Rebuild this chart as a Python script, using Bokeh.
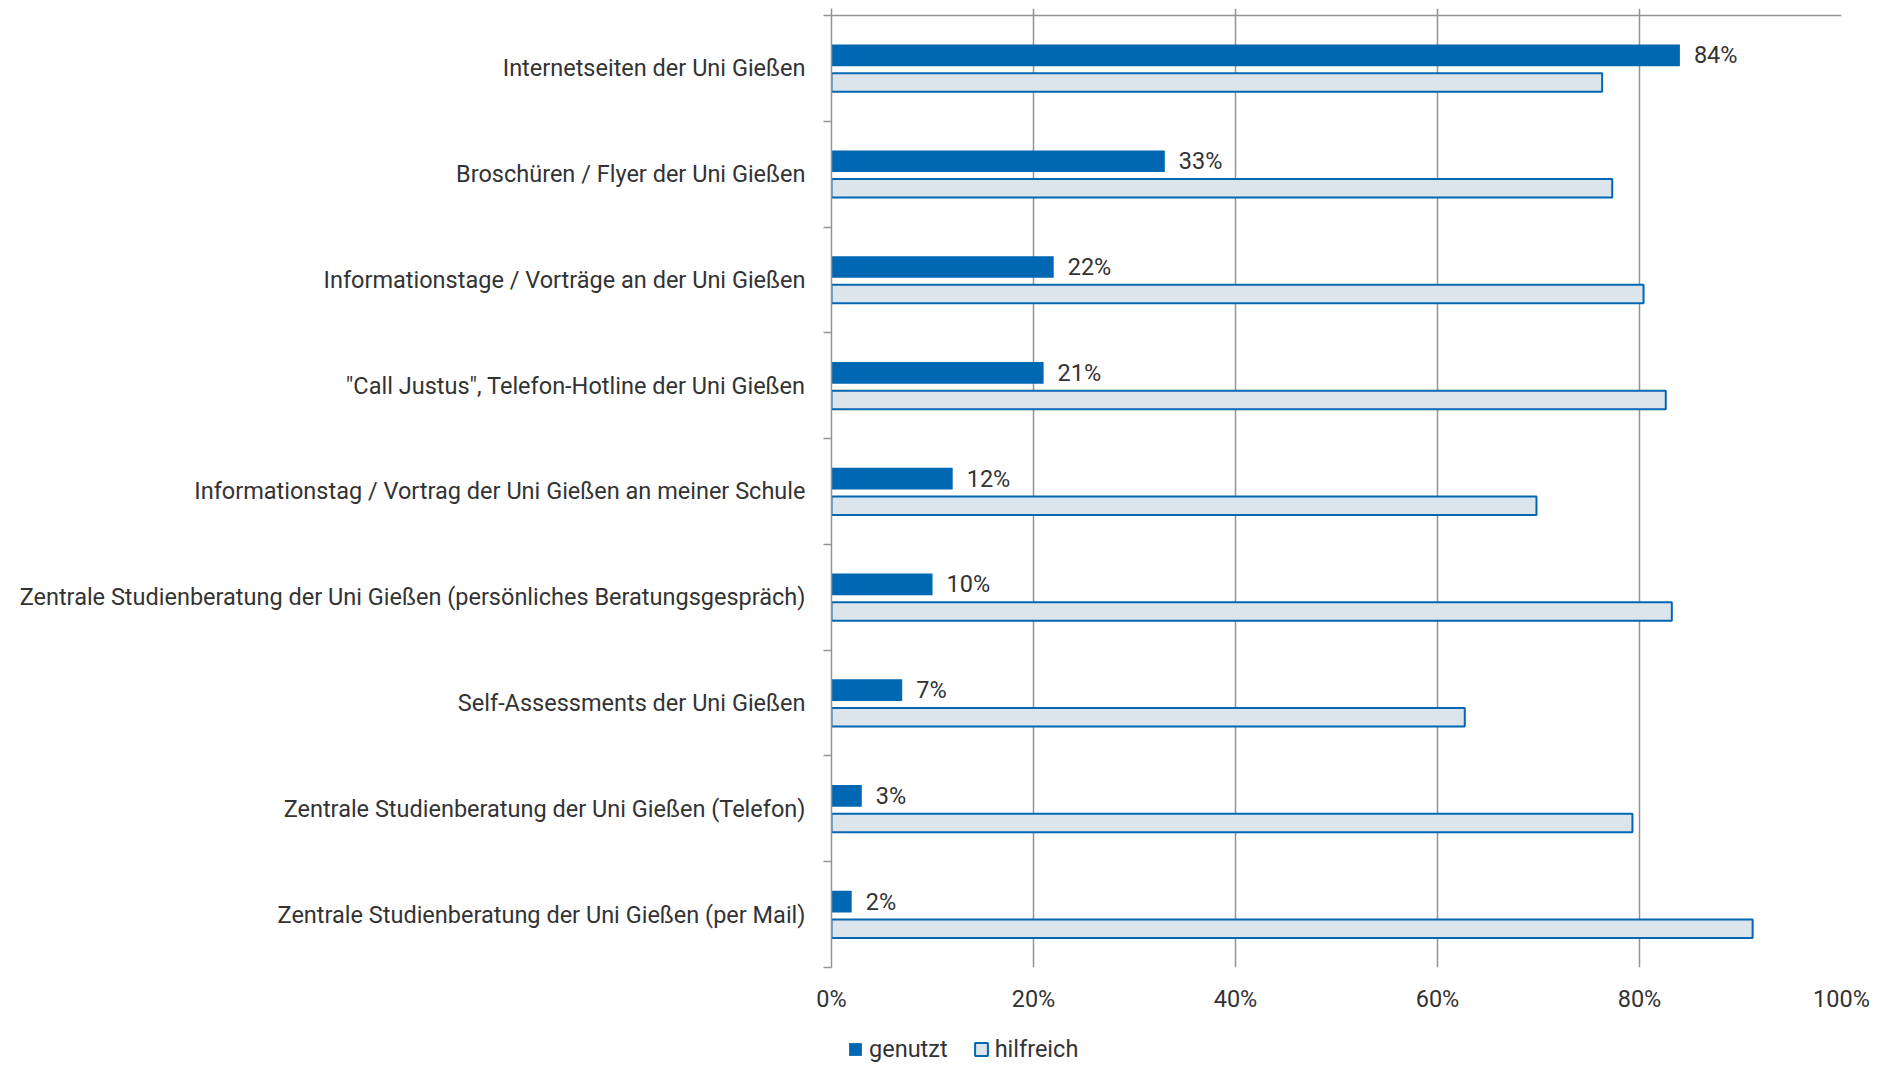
from bokeh.plotting import figure
from bokeh.layouts import column
from bokeh.models import (Range1d, FixedTicker, Span, Legend, LegendItem,
                          ColumnDataSource)
from bokeh.core.properties import value
from bokeh.transform import dodge
from bokeh.embed import file_html
from bokeh.resources import INLINE

categories = [
    "Internetseiten der Uni Gießen",
    "Broschüren / Flyer der Uni Gießen",
    "Informationstage / Vorträge an der Uni Gießen",
    "\"Call Justus\", Telefon-Hotline der Uni Gießen",
    "Informationstag / Vortrag der Uni Gießen an meiner Schule",
    "Zentrale Studienberatung der Uni Gießen (persönliches Beratungsgespräch)",
    "Self-Assessments der Uni Gießen",
    "Zentrale Studienberatung der Uni Gießen (Telefon)",
    "Zentrale Studienberatung der Uni Gießen (per Mail)",
]
genutzt = [84, 33, 22, 21, 12, 10, 7, 3, 2]
hilfreich = [76.3, 77.3, 80.4, 82.6, 69.8, 83.2, 62.7, 79.3, 91.2]
x_ticks = [0, 20, 40, 60, 80, 100]
x_tick_labels = ["0%", "20%", "40%", "60%", "80%", "100%"]
series_names = ["genutzt", "hilfreich"]

FONT = "Roboto"
FS = "23.5px"
TXT = "#333333"
GRID = "#939393"
BLUE = "#0067B3"
LIGHT = "#DCE5EC"

n = len(categories)
centers = [i + 0.5 for i in range(n)]
boundaries = list(range(n + 1))

src = ColumnDataSource(dict(
    y=centers,
    genutzt=genutzt,
    hilfreich=hilfreich,
    glabel=[f"{v}%" for v in genutzt],
))

p = figure(frame_width=1010, frame_height=959, output_backend="svg",
           toolbar_location=None,
           x_range=Range1d(0, 100), y_range=Range1d(n, -0.066),
           min_border_left=831, min_border_right=39, min_border_top=8,
           min_border_bottom=56, outline_line_color=None)

r1 = p.hbar(y=dodge("y", -0.122), left=0, right="genutzt", height=0.205,
            source=src, fill_color=BLUE, line_color=None)
r2 = p.hbar(y=dodge("y", 0.134), left=0, right="hilfreich", height=0.175,
            source=src, fill_color=LIGHT, line_color=BLUE, line_width=2)

p.text(x="genutzt", y=dodge("y", -0.122), text="glabel", source=src,
       x_offset=14, text_baseline="middle", text_align="left",
       text_font=value(FONT), text_font_size=FS, text_color=TXT)

# top line
p.add_layout(Span(location=0, dimension="width", line_color=GRID, line_width=1.5))

# grid
p.ygrid.visible = False
p.xgrid.ticker = FixedTicker(ticks=x_ticks)
p.xgrid.grid_line_color = GRID
p.xgrid.grid_line_width = 1.5

# x axis
p.xaxis.ticker = FixedTicker(ticks=x_ticks)
p.xaxis.major_label_overrides = {t: l for t, l in zip(x_ticks, x_tick_labels)}
p.xaxis.axis_line_color = None
p.xaxis.major_tick_line_color = None
p.xaxis.minor_tick_line_color = None
p.xaxis.major_tick_out = 0
p.xaxis.minor_tick_out = 0
p.xaxis.major_label_standoff = 17
p.xaxis.major_label_text_font = FONT
p.xaxis.major_label_text_font_size = FS
p.xaxis.major_label_text_color = TXT

# y axis
p.yaxis.ticker = FixedTicker(ticks=centers, minor_ticks=boundaries)
p.yaxis.major_label_overrides = {c: l for c, l in zip(centers, categories)}
p.yaxis.axis_line_color = GRID
p.yaxis.axis_line_width = 1.5
p.yaxis.major_tick_line_color = None
p.yaxis.major_tick_out = 0
p.yaxis.major_tick_in = 0
p.yaxis.minor_tick_line_color = GRID
p.yaxis.minor_tick_line_width = 1.5
p.yaxis.minor_tick_out = 8
p.yaxis.minor_tick_in = 0
p.yaxis.major_label_standoff = 18
p.yaxis.major_label_text_font = FONT
p.yaxis.major_label_text_font_size = FS
p.yaxis.major_label_text_color = TXT

# legend strip underneath the chart (its own small figure, so nothing is clipped)
lg = figure(frame_width=1880, frame_height=40, output_backend="svg",
            toolbar_location=None, min_border=0,
            x_range=Range1d(0, 1880), y_range=Range1d(0, 40),
            x_axis_location=None, y_axis_location=None,
            outline_line_color=None)
lg.grid.visible = False
# one hidden (out of view, zero length) row so the legend swatches get drawn
proxy = ColumnDataSource(dict(y=[-100], right=[0]))
l1 = lg.hbar(y="y", right="right", left=0, height=1, source=proxy,
             fill_color=BLUE, line_color=None)
l2 = lg.hbar(y="y", right="right", left=0, height=1, source=proxy,
             fill_color=LIGHT, line_color=BLUE, line_width=2)
legend = Legend(items=[LegendItem(label=series_names[0], renderers=[l1]),
                       LegendItem(label=series_names[1], renderers=[l2])],
                orientation="horizontal", location=(847, 0),
                glyph_width=16, glyph_height=16, label_standoff=6, spacing=25,
                padding=0, margin=0, border_line_color=None,
                background_fill_alpha=0,
                label_text_font=FONT, label_text_font_size=FS,
                label_text_color=TXT)
lg.add_layout(legend, "center")

layout = column(p, lg, spacing=0)
open("out.html", "w").write(file_html(layout, INLINE))
